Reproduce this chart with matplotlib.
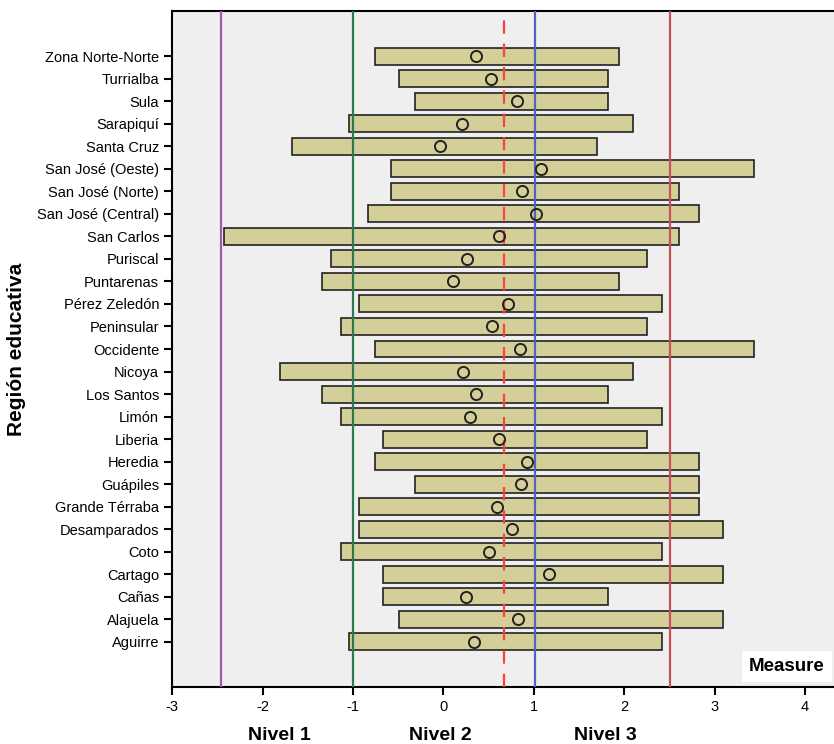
import matplotlib.pyplot as plt

plt.rcParams['font.family'] = ['Liberation Sans', 'DejaVu Sans']
plt.rcParams['axes.unicode_minus'] = False

regions = ['Aguirre', 'Alajuela', 'Cañas', 'Cartago', 'Coto', 'Desamparados',
           'Grande Térraba', 'Guápiles', 'Heredia', 'Liberia', 'Limón',
           'Los Santos', 'Nicoya', 'Occidente', 'Peninsular', 'Pérez Zeledón',
           'Puntarenas', 'Puriscal', 'San Carlos', 'San José (Central)',
           'San José (Norte)', 'San José (Oeste)', 'Santa Cruz', 'Sarapiquí',
           'Sula', 'Turrialba', 'Zona Norte-Norte']
low = [-1.04, -0.49, -0.67, -0.67, -1.13, -0.93,
       -0.93, -0.32, -0.76, -0.67, -1.13,
       -1.34, -1.81, -0.76, -1.13, -0.93,
       -1.34, -1.24, -2.43, -0.84,
       -0.58, -0.58, -1.68, -1.04,
       -0.32, -0.49, -0.76]
high = [2.42, 3.09, 1.82, 3.09, 2.42, 3.09,
        2.83, 2.83, 2.83, 2.25, 2.42,
        1.82, 2.10, 3.43, 2.25, 2.42,
        1.94, 2.25, 2.61, 2.83,
        2.61, 3.43, 1.70, 2.10,
        1.82, 1.82, 1.94]
means = [0.34, 0.83, 0.25, 1.17, 0.50, 0.76,
         0.59, 0.86, 0.92, 0.61, 0.29,
         0.36, 0.22, 0.85, 0.54, 0.71,
         0.11, 0.26, 0.61, 1.02,
         0.87, 1.08, -0.04, 0.20,
         0.81, 0.53, 0.36]

cuts = [-2.46, -1.0, 1.01, 2.51]
cut_colors = ['#a855a8', '#2e7a4e', '#4d66c4', '#c8505c']
overall_mean = 0.67
nivel_labels = ['Nivel 1', 'Nivel 2', 'Nivel 3']
nivel_x = [-1.81, -0.03, 1.79]

fig = plt.figure(figsize=(8.34, 7.44), dpi=100)
ax = fig.add_axes([0.2065, 0.0766, 0.7935, 0.9086])
ax.set_facecolor('#efefef')

ypos = list(range(len(regions)))
widths = [h - l for l, h in zip(low, high)]
ax.barh(ypos, widths, left=low, height=0.75, color='#d4cf98',
        edgecolor='#222222', linewidth=1.2, zorder=2)

for c, col in zip(cuts, cut_colors):
    ax.axvline(c, color=col, linewidth=1.6, zorder=3)
ax.axvline(overall_mean, color='#ff4040', linewidth=1.6,
           linestyle=(0, (6, 4.5)), zorder=3)

ax.plot(means, ypos, 'o', markerfacecolor='none', markeredgecolor='#222222',
        markersize=8, markeredgewidth=1.4, zorder=4)

ax.set_xlim(-3, 4.32)
ax.set_ylim(-2, 28)
ax.set_yticks(ypos)
ax.set_yticklabels(regions, fontsize=10.5)
ax.set_xticks(range(-3, 5))
ax.tick_params(axis='x', labelsize=10.5, length=6, width=1.5)
ax.tick_params(axis='y', length=6, width=1.5)
for s in ['left', 'bottom', 'top']:
    ax.spines[s].set_linewidth(1.5)
ax.spines['right'].set_visible(False)

ax.set_ylabel('Región educativa', fontsize=15, fontweight='bold', labelpad=8)

for lab, xv in zip(nivel_labels, nivel_x):
    ax.text(xv, -0.072, lab, transform=ax.get_xaxis_transform(),
            ha='center', va='center', fontsize=14, fontweight='bold')

ax.text(4.22, -1.1, 'Measure', ha='right', va='center', fontsize=13.5,
        fontweight='bold', zorder=5,
        bbox=dict(facecolor='white', edgecolor='none', pad=5))

fig.savefig('out.png', dpi=100)
